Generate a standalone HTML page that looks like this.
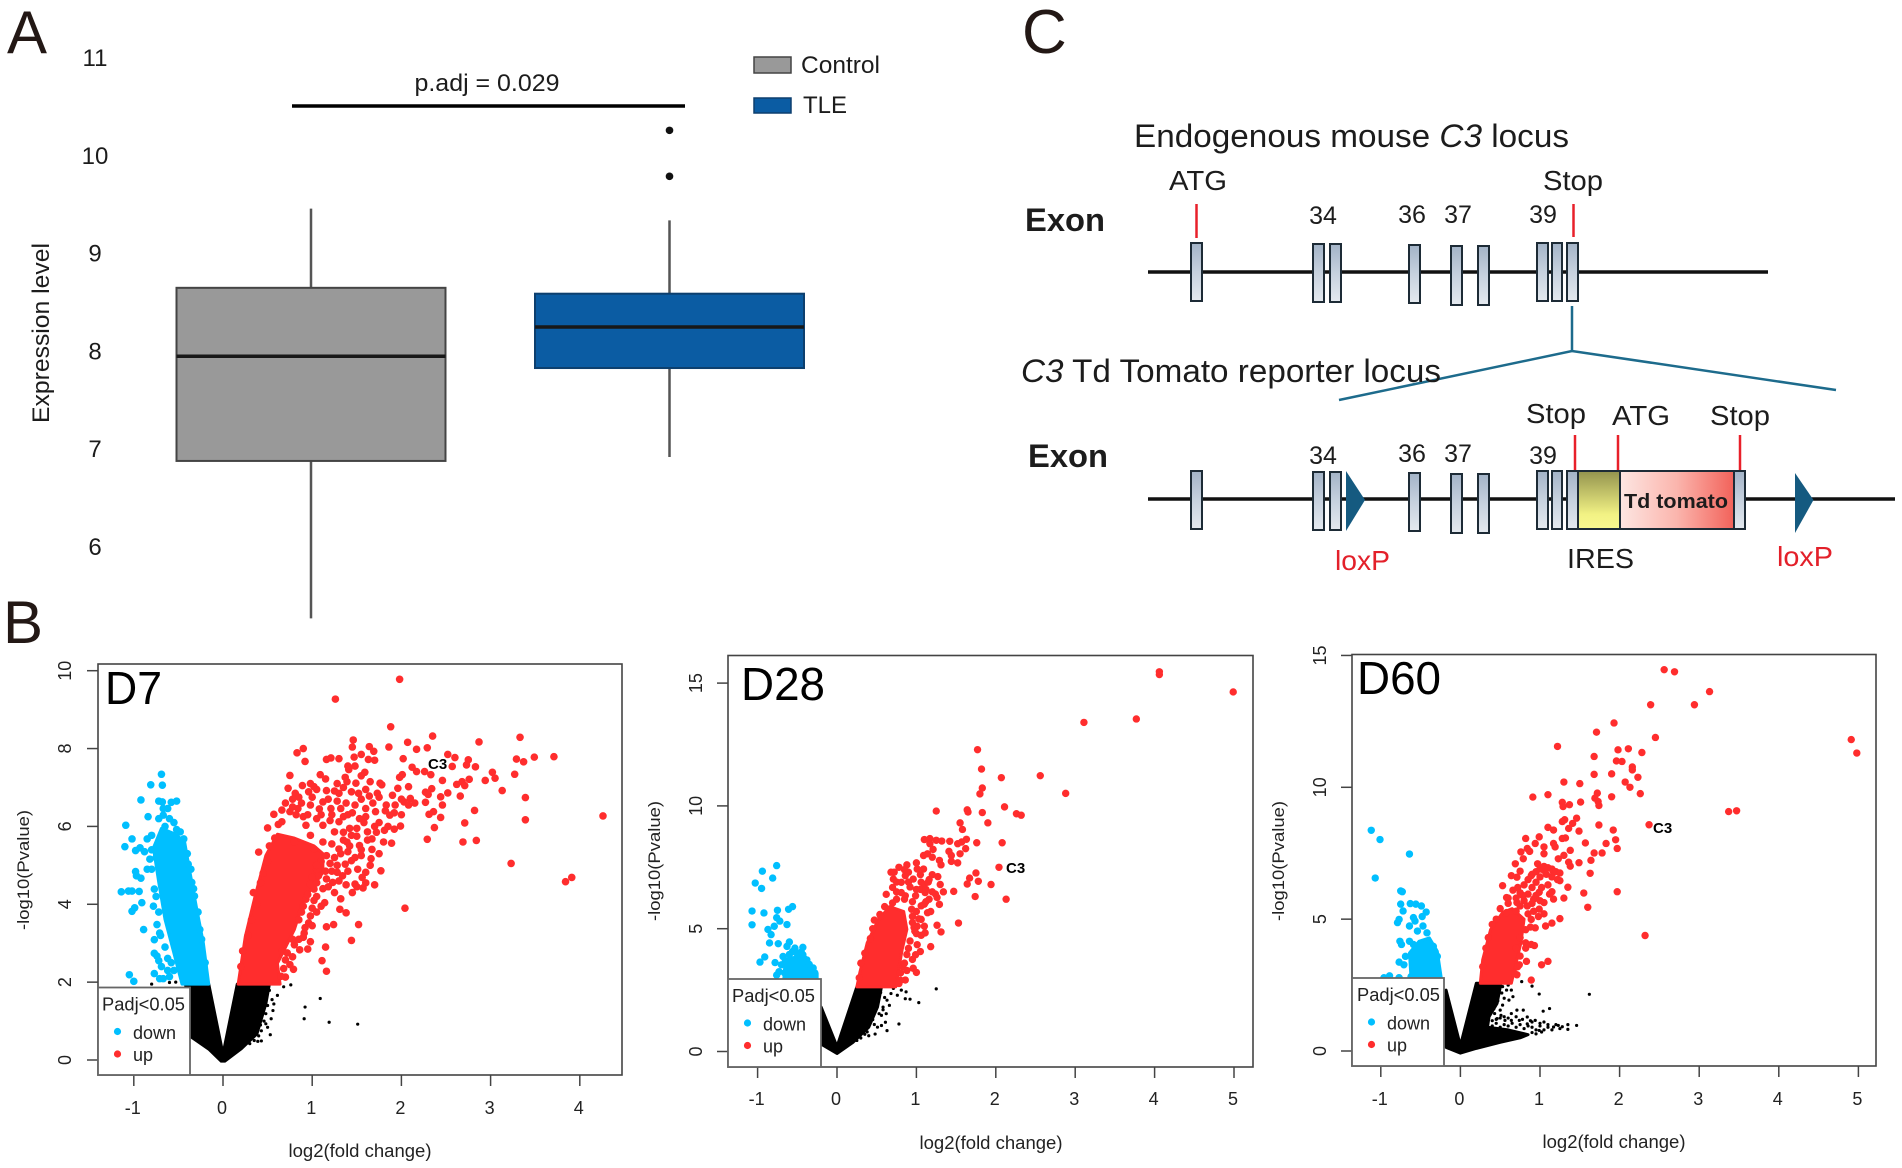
<!DOCTYPE html>
<html lang="en">
<head>
<meta charset="utf-8">
<title>C3 expression figure</title>
<style>
html,body{margin:0;padding:0;background:#fff;width:1902px;height:1168px;overflow:hidden}
svg{display:block;font-family:"Liberation Sans",sans-serif;fill:#1c1c1c}
</style>
</head>
<body>
<svg id="fig" xmlns="http://www.w3.org/2000/svg" width="1902" height="1168" viewBox="0 0 1902 1168">
<defs>
<linearGradient id="exonGrad" x1="0" y1="0" x2="0" y2="1"><stop offset="0" stop-color="#a3b3c7"/><stop offset="0.5" stop-color="#c6d1de"/><stop offset="1" stop-color="#e4e9ef"/></linearGradient>
<linearGradient id="iresGrad" x1="0" y1="0" x2="0" y2="1"><stop offset="0" stop-color="#93934e"/><stop offset="0.75" stop-color="#f2f284"/><stop offset="1" stop-color="#f8f890"/></linearGradient>
<linearGradient id="tomatoGrad" x1="0" y1="0" x2="1" y2="0"><stop offset="0" stop-color="#fde6e2"/><stop offset="0.5" stop-color="#fbb5ad"/><stop offset="1" stop-color="#f2625a"/></linearGradient>
</defs>

<text x="7" y="53" font-size="60" fill="#231815">A</text>
<text x="3" y="643" font-size="60" fill="#231815">B</text>
<text x="1022" y="53" font-size="62" fill="#231815">C</text>

<g id="boxplot"></g>
<line x1="292" y1="106" x2="685" y2="106" stroke="#000" stroke-width="3.5"/>
<text x="487" y="91" font-size="24" text-anchor="middle" textLength="145" lengthAdjust="spacingAndGlyphs">p.adj = 0.029</text>
<text transform="translate(49 333) rotate(-90)" font-size="24" text-anchor="middle" textLength="180" lengthAdjust="spacingAndGlyphs">Expression level</text>

<g>
<rect x="754" y="57" width="37" height="16" fill="#999" stroke="#444" stroke-width="1.5"/>
<text x="801" y="73" font-size="24" textLength="79" lengthAdjust="spacingAndGlyphs">Control</text>
<rect x="754" y="98" width="37" height="15" fill="#0b5ca3" stroke="#0d3f6e" stroke-width="1.5"/>
<text x="803" y="113" font-size="24" textLength="44" lengthAdjust="spacingAndGlyphs">TLE</text>
</g>

<g>
<text x="1134" y="147" font-size="32" textLength="435" lengthAdjust="spacingAndGlyphs">Endogenous mouse <tspan font-style="italic">C3</tspan> locus</text>
<text x="1169" y="190" font-size="28" textLength="58" lengthAdjust="spacingAndGlyphs">ATG</text>
<text x="1543" y="190" font-size="28" textLength="60" lengthAdjust="spacingAndGlyphs">Stop</text>
<text x="1025" y="231" font-size="32" font-weight="bold" textLength="80" lengthAdjust="spacingAndGlyphs">Exon</text>
<g font-size="25" text-anchor="middle">
<text x="1323" y="224">34</text>
<text x="1412" y="223">36</text>
<text x="1458" y="223">37</text>
<text x="1543" y="223">39</text>
<text x="1323" y="464">34</text>
<text x="1412" y="462">36</text>
<text x="1458" y="462">37</text>
<text x="1543" y="464">39</text>
</g>
<line x1="1196.5" y1="204" x2="1196.5" y2="238" stroke="#e8202a" stroke-width="2.5"/>
<line x1="1573.5" y1="204" x2="1573.5" y2="237" stroke="#e8202a" stroke-width="2.5"/>
<line x1="1148" y1="272" x2="1768" y2="272" stroke="#111" stroke-width="3.5"/>
<g stroke="#1d2b36" stroke-width="2" fill="url(#exonGrad)">
<rect x="1191" y="243" width="11" height="58"/>
<rect x="1313" y="244" width="11" height="58"/>
<rect x="1330" y="244" width="11" height="58"/>
<rect x="1409" y="245" width="11" height="58"/>
<rect x="1451" y="246" width="11" height="59"/>
<rect x="1478" y="246" width="11" height="59"/>
<rect x="1537" y="243" width="11" height="58"/>
<rect x="1552" y="243" width="10" height="58"/>
<rect x="1567" y="243" width="11" height="58"/>
</g>
<polyline points="1339,400 1572,351 1836,390" fill="none" stroke="#1d6b8c" stroke-width="2.5"/>
<line x1="1572" y1="306" x2="1572" y2="351" stroke="#1d6b8c" stroke-width="2.5"/>
<text x="1021" y="382" font-size="32" textLength="420" lengthAdjust="spacingAndGlyphs"><tspan font-style="italic">C3</tspan> Td Tomato reporter locus</text>
<text x="1028" y="467" font-size="32" font-weight="bold" textLength="80" lengthAdjust="spacingAndGlyphs">Exon</text>
<text x="1526" y="423" font-size="28" textLength="60" lengthAdjust="spacingAndGlyphs">Stop</text>
<text x="1612" y="425" font-size="28" textLength="58" lengthAdjust="spacingAndGlyphs">ATG</text>
<text x="1710" y="425" font-size="28" textLength="60" lengthAdjust="spacingAndGlyphs">Stop</text>
<g stroke="#e8202a" stroke-width="2.5">
<line x1="1575" y1="435" x2="1575" y2="470"/>
<line x1="1618" y1="435" x2="1618" y2="470"/>
<line x1="1740" y1="435" x2="1740" y2="470"/>
</g>
<line x1="1148" y1="499" x2="1895" y2="499" stroke="#111" stroke-width="3.5"/>
<g stroke="#1d2b36" stroke-width="2" fill="url(#exonGrad)">
<rect x="1191" y="471" width="11" height="58"/>
<rect x="1313" y="472" width="11" height="58"/>
<rect x="1330" y="472" width="11" height="58"/>
<rect x="1409" y="473" width="11" height="58"/>
<rect x="1451" y="474" width="11" height="59"/>
<rect x="1478" y="474" width="11" height="59"/>
<rect x="1537" y="471" width="11" height="58"/>
<rect x="1552" y="471" width="10" height="58"/>
<rect x="1567" y="471" width="11" height="58"/>
<rect x="1734" y="471" width="11" height="58"/>
</g>
<rect x="1578" y="471" width="42" height="58" fill="url(#iresGrad)" stroke="#1d2b36" stroke-width="2"/>
<rect x="1620" y="471" width="114" height="58" fill="url(#tomatoGrad)" stroke="#1d2b36" stroke-width="2"/>
<text x="1624" y="508" font-size="20" font-weight="bold" textLength="104" lengthAdjust="spacingAndGlyphs">Td tomato</text>
<polygon points="1346,471 1365,500 1346,531" fill="#155a80"/>
<polygon points="1795,473 1813.5,500 1795,533" fill="#155a80"/>
<text x="1335" y="570" font-size="28" fill="#e3202a" textLength="55" lengthAdjust="spacingAndGlyphs">loxP</text>
<text x="1777" y="566" font-size="28" fill="#e3202a" textLength="56" lengthAdjust="spacingAndGlyphs">loxP</text>
<text x="1567" y="568" font-size="28" textLength="67" lengthAdjust="spacingAndGlyphs">IRES</text>
</g>

<g id="volcano-d7"></g>
<g id="volcano-d28"></g>
<g id="volcano-d60"></g>
</svg>

<script>
/* ---------- Panel A: boxplot data ---------- */
var boxCategories = ["Control", "TLE"];
var boxWhiskerLow = [5.27, 6.92];
var boxQ1 = [6.88, 7.83];
var boxMedian = [7.95, 8.25];
var boxQ3 = [8.65, 8.59];
var boxWhiskerHigh = [9.46, 9.34];
var boxOutliers = [[], [9.79, 10.26]];
var boxFills = ["#999999", "#0b5ca3"];
var boxStrokes = ["#444444", "#0d3f6e"];
var boxYTicks = [6, 7, 8, 9, 10, 11];

/* ---------- Panel B: volcano ticks ---------- */
var d7XTicks = [-1, 0, 1, 2, 3, 4];
var d7YTicks = [0, 2, 4, 6, 8, 10];
var d28XTicks = [-1, 0, 1, 2, 3, 4, 5];
var d28YTicks = [0, 5, 10, 15];
var d60XTicks = [-1, 0, 1, 2, 3, 4, 5];
var d60YTicks = [0, 5, 10, 15];

/* ---------- D7 values: [log2FC, -log10P] ---------- */
var d7UpPoints = [[1.98,9.78],[1.26,9.27],[1.88,8.56],[2.35,8.32],[3.33,8.29],[2.87,8.17],[1.46,8.22],[2.07,8.16],[2.17,7.98],[2.29,8.02],[1.86,8.04],[1.64,8.05],[1.69,7.93],[0.90,8.00],[0.83,7.89],[1.45,8.04],[2.52,7.85],[2.60,7.77],[3.49,7.78],[3.71,7.79],[3.29,7.73],[3.37,7.66],[2.75,7.71],[2.73,7.58],[2.57,7.54],[2.83,7.53],[3.27,7.34],[3.02,7.39],[3.05,7.24],[2.94,7.18],[2.76,7.21],[2.68,7.15],[2.62,7.08],[2.71,7.05],[2.46,7.18],[3.13,6.92],[3.39,6.74],[2.66,6.78],[2.52,6.86],[2.44,6.76],[2.34,6.97],[2.27,6.88],[2.30,6.82],[2.27,6.62],[2.46,6.55],[2.36,6.38],[2.31,6.31],[2.44,6.23],[4.26,6.27],[2.82,6.41],[3.39,6.17],[2.71,6.09],[2.37,5.97],[2.29,5.67],[2.69,5.60],[2.84,5.64],[3.23,5.05],[3.91,4.69],[3.84,4.58],[2.04,3.90],[1.77,4.86],[1.70,4.50],[1.57,4.42],[1.60,4.82],[1.51,4.90],[1.56,4.69],[1.48,4.52],[1.32,4.14],[1.38,3.78],[1.31,3.87],[1.52,3.48],[1.24,3.48],[1.16,3.42],[1.44,3.07],[1.15,2.90],[1.11,2.55],[1.16,2.28],[0.79,2.33],[0.70,2.13],[1.89,5.57],[1.81,5.90],[1.99,6.01],[1.92,5.93],[1.96,6.98],[2.08,7.02],[2.01,7.33],[1.98,7.26],[2.02,7.74],[2.12,7.52],[2.26,7.41],[2.17,7.41],[2.33,7.33],[1.16,7.72],[1.30,7.74],[1.21,7.76],[0.92,7.67],[1.47,7.78],[1.63,7.72],[0.75,7.31],[1.09,7.33],[1.15,7.22],[1.41,7.46],[1.37,7.26],[1.59,7.39],[1.76,7.11],[1.49,7.11],[0.73,6.98],[0.81,6.85],[0.89,7.05],[1.02,7.02],[0.96,6.89],[1.16,6.92],[1.25,6.91],[1.39,7.15],[1.44,6.89],[1.64,6.78],[1.73,6.85],[1.78,7.07],[1.83,6.55],[1.87,6.29],[1.93,6.55],[2.03,6.63],[2.10,6.72],[2.08,6.55],[0.66,6.42],[0.57,6.31],[0.50,5.96],[0.40,5.34],[0.34,4.30],[0.66,6.12],[0.75,6.38],[0.84,6.46],[0.98,6.55],[1.12,6.63],[1.21,6.46],[1.32,6.46],[1.48,6.55],[1.60,6.46],[1.71,6.38],[1.53,6.2],[1.44,5.77],[1.62,5.86],[1.67,5.68],[1.53,5.51],[1.67,5.41],[1.66,5.17],[1.55,5.25],[1.44,5.12],[1.37,5.03],[1.28,4.82],[1.34,4.73],[1.23,4.56],[1.16,4.65],[1.14,4.04],[1.02,4.39],[0.93,4.13],[0.98,4.52],[1.07,4.73],[1.05,4.9],[1.3,5.42],[1.16,5.25],[1.39,5.6],[1.25,5.86],[1.12,5.6],[1.02,5.42],[0.98,5.77],[1.12,6.03],[1.3,6.12],[0.93,6.03],[0.8,5.6],[0.96,3.52],[0.91,3.26],[0.98,3.04],[0.86,2.83],[0.7,2.57],[0.8,2.96],[0.66,2.79],[1.75,6.1],[1.58,6.1],[1.4,6.3],[1.05,6.2],[0.9,6.25],[1.2,6.15],[1.05,4.2],[0.88,3.8],[1.0,3.9],[1.1,5.1],[1.25,5.2],[1.4,5.35],[1.5,5.95],[0.7,6.6],[0.78,6.5],[0.88,6.6],[1.0,6.75],[1.08,6.45],[1.18,6.7],[1.28,6.65],[1.38,6.6],[1.55,6.7],[1.68,6.6],[1.82,6.4],[1.75,6.75],[1.6,6.25],[1.45,6.35],[1.35,6.25],[1.22,6.3],[1.1,6.3],[0.95,6.3],[0.82,6.3],[1.7,6.0],[1.62,5.65],[1.5,5.75],[1.42,5.95],[1.35,5.85],[1.55,5.4],[1.48,5.2],[1.42,5.5],[1.32,5.3],[1.35,5.65],[1.22,5.55],[1.28,5.0],[1.2,5.05],[1.22,4.85],[1.18,4.45],[1.12,4.4],[1.15,4.85],[1.05,4.55],[1.0,4.7],[0.95,4.25],[1.02,4.1],[0.9,3.95],[0.98,3.7],[0.85,3.6],[0.92,3.4],[0.78,3.1],[0.85,3.1],[0.72,2.75],[0.78,2.65],[0.68,2.35],[0.65,2.15],[0.75,2.45],[1.1,3.95],[1.05,3.8],[1.0,3.45],[0.95,2.85],[0.9,3.15],[1.05,5.0],[1.3,4.6],[1.4,4.85],[1.45,4.3],[1.25,4.3],[1.38,4.5],[1.5,4.45],[1.6,4.55],[1.65,5.0],[1.75,5.3],[1.8,5.6],[1.72,5.85],[1.85,6.0],[1.92,6.35],[2.0,6.3],[1.9,6.8],[2.0,6.7],[2.15,6.6],[1.55,7.3],[1.65,7.15],[1.4,7.55],[1.35,7.0],[1.28,7.1],[1.05,6.95],[0.98,7.1],[0.85,6.75],[0.78,6.7],[1.48,7.55],[1.55,7.85],[1.7,7.7],[1.6,6.95],[1.52,6.85],[1.3,6.85],[0.62,6.05],[0.58,5.7],[0.52,5.5],[0.5,5.1],[0.45,4.8],[0.42,4.55],[0.38,4.0],[0.32,3.6],[0.28,3.2],[0.22,2.8],[0.2,2.4]];
var d7UpDense = [[0.17,1.95],[0.25,3.17],[0.36,4.21],[0.48,5.25],[0.61,5.8],[0.8,5.7],[1.02,5.5],[1.12,5.3],[1.12,4.82],[0.91,4.13],[0.80,3.35],[0.61,2.48],[0.64,1.95]];
var d7DownPoints = [[-0.69,7.34],[-0.81,7.07],[-0.68,7.06],[-0.92,6.68],[-0.72,6.65],[-0.68,6.63],[-0.58,6.62],[-0.52,6.65],[-0.67,6.46],[-0.62,6.46],[-0.67,6.29],[-0.84,6.25],[-1.09,6.03],[-1.02,5.68],[-1.1,5.48],[-0.93,5.45],[-0.98,5.38],[-1.14,4.32],[-1.06,4.34],[-1.02,4.34],[-0.94,4.33],[-0.98,4.84],[-0.97,4.73],[-0.92,4.67],[-0.91,4.04],[-0.99,3.91],[-1.02,3.82],[-0.89,3.35],[-0.77,3.09],[-0.77,2.74],[-0.74,2.67],[-0.69,2.4],[-0.77,2.22],[-1.05,2.19],[-1.0,2.02],[-0.67,2.09],[-0.6,2.14],[-0.71,2.09],[-0.85,5.68],[-0.8,5.77],[-0.82,5.16],[-0.85,4.9],[-0.77,4.39],[-0.78,3.95],[-0.74,3.48],[-0.71,3.26],[-0.62,2.61],[-0.48,5.86],[-0.44,5.68],[-0.52,5.92],[-0.39,5.03],[-0.35,4.56],[-0.32,4.21],[-0.26,3.35],[-0.8,4.9],[-0.75,5.2],[-0.88,5.35],[-0.8,5.4],[-0.75,4.2],[-0.72,3.8],[-0.7,3.2],[-0.65,2.9],[-0.58,2.5],[-0.55,2.3],[-0.62,2.3],[-0.72,2.55],[-0.4,5.3],[-0.36,4.9],[-0.33,4.4],[-0.28,3.8],[-0.24,3.1],[-0.2,2.5],[-0.55,6.1],[-0.6,6.2],[-0.72,6.2],[-0.65,6.0]];
var d7DownDense = [[-0.16,1.95],[-0.22,3.0],[-0.30,3.95],[-0.37,4.82],[-0.43,5.6],[-0.53,5.8],[-0.69,5.95],[-0.78,5.45],[-0.72,4.56],[-0.65,3.61],[-0.56,2.83],[-0.46,1.95]];
var d7NsPoints = [[0.92,1.36],[1.09,1.58],[0.91,1.06],[1.19,0.97],[1.51,0.92],[0.76,1.93],[0.68,1.88],[0.61,1.66],[0.57,1.44],[0.54,1.06],[0.53,0.65],[0.5,0.84],[0.43,0.49],[0.39,0.48],[0.56,1.27],[0.48,1.19],[0.52,1.79],[0.43,0.75],[0.59,1.96],[0.48,0.93],[-0.9,1.83],[-0.8,1.95],[-0.6,1.99],[-0.53,2.0],[0.55,1.55],[0.5,1.4],[0.46,1.0],[0.42,0.9],[0.4,0.62],[0.35,0.5],[0.3,0.42]];
var d7NsDense = [[0.16,1.95],[0.52,1.95],[0.48,1.44],[0.38,0.67],[0.2,0.28],[0.02,-0.03],[-0.02,-0.03],[-0.16,0.28],[-0.35,0.58],[-0.42,1.95],[-0.16,1.95],[0,0.15]];

/* ---------- D28 values ---------- */
var d28UpPoints = [[4.06,15.46],[4.06,15.35],[4.99,14.64],[3.77,13.54],[3.11,13.4],[1.77,12.29],[1.82,11.5],[2.07,11.15],[2.56,11.23],[1.83,10.73],[1.8,10.49],[2.88,10.51],[2.11,9.96],[1.25,9.79],[1.64,9.84],[1.65,9.75],[1.83,9.73],[2.26,9.68],[2.32,9.62],[1.9,9.31],[1.55,9.31],[1.58,9.04],[1.63,8.64],[1.76,8.5],[2.08,8.5],[1.1,8.63],[1.17,8.67],[1.17,8.46],[1.25,8.6],[1.32,8.57],[1.42,8.56],[1.52,8.46],[1.57,8.53],[1.62,8.26],[1.41,8.15],[1.44,7.98],[1.55,8.05],[1.09,7.98],[1.14,8.05],[1.21,8.23],[1.2,7.91],[1.29,7.78],[1.31,7.6],[1.44,7.74],[1.52,7.68],[1,7.68],[2.04,7.5],[1.75,7.27],[1.67,7.06],[1.78,6.93],[1.64,6.82],[1.94,6.8],[1.74,6.31],[2.13,6.2],[1.47,6.52],[1.53,5.23],[1.26,5.14],[1.31,4.87],[1.18,4.27],[1.06,4.73],[1.11,4.83],[1.1,5.1],[1.01,4.35],[1.05,4.07],[0.99,3.94],[0.96,3.39],[1,3.22],[0.83,3.46],[0.86,2.91],[0.78,2.77],[0.47,5.35],[0.54,5.58],[0.68,7.3],[0.71,7.02],[0.78,7.5],[0.88,7.6],[1.01,7.43],[1.09,7.43],[1.16,7],[1.27,7.12],[1.34,6.5],[1.26,6.27],[1.29,5.99],[1.14,5.65],[1.06,5.38],[1.01,5.1],[1.24,6.41],[1.16,6.2],[0.81,6.89],[0.7,6.68],[0.86,7.16],[0.96,7.02],[1.06,6.89],[1.11,6.47],[1.06,5.93],[0.94,5.79],[0.86,6.34],[0.99,6.34],[0.81,6.47],[0.92,6.7],[1.0,6.6],[1.1,6.8],[1.2,6.5],[0.75,6.2],[0.95,5.5],[0.98,4.9],[0.9,4.2],[0.95,3.75],[1.12,6.1],[0.85,6.2],[0.95,6.1],[1.0,5.7],[1.05,6.6],[0.9,6.9],[0.75,6.5],[0.7,6.05],[0.62,6.4],[0.6,5.9],[0.55,5.5],[0.45,5.0],[0.42,4.6],[0.35,4.0],[0.3,3.6],[0.28,3],[0.95,5.25],[1.0,4.8],[0.92,4.5],[0.88,3.95],[0.85,3.6],[0.8,3.2],[0.88,3.3],[0.8,2.9],[1.15,6.9],[1.2,7.2],[1.05,7.2],[0.9,7.3],[0.85,7.4],[1.3,6.8],[1.1,6.0],[1.18,5.7],[0.97,5.05],[1.03,5.4],[1.12,6.6],[0.72,7.3],[0.75,6.9]];
var d28UpDense = [[0.25,2.63],[0.29,3.25],[0.38,4.42],[0.51,5.3],[0.66,5.9],[0.84,5.7],[0.88,4.97],[0.82,4.14],[0.74,2.63]];
var d28DownPoints = [[-0.76,7.57],[-0.94,7.34],[-0.81,7.06],[-1.03,6.86],[-0.95,6.64],[-1.07,5.72],[-0.92,5.64],[-0.75,5.75],[-0.61,5.79],[-0.56,5.9],[-0.76,5.45],[-0.72,5.31],[-0.79,5.1],[-0.63,5.17],[-1.07,5.16],[-0.87,4.97],[-0.83,4.76],[-0.85,4.42],[-0.74,4.39],[-0.6,4.46],[-0.63,4.28],[-0.43,4.24],[-0.53,4.21],[-0.56,4.07],[-0.91,3.85],[-0.97,3.64],[-0.68,3.87],[-0.78,3.62],[-0.7,3.53],[-0.73,3.25],[-0.76,3.11],[-0.43,3.94],[-0.38,3.73],[-0.63,3.5],[-0.58,3.75],[-0.5,4.0],[-0.45,4.05],[-0.35,3.55],[-0.3,3.4],[-0.28,3.2],[-0.66,3.2],[-0.6,3.95],[-0.65,3.7]];
var d28DownDense = [[-0.67,2.94],[-0.66,3.39],[-0.53,3.87],[-0.4,3.87],[-0.25,3.18],[-0.25,2.94]];
var d28NsPoints = [[1.25,2.55],[1.03,1.99],[0.92,2.13],[0.86,2.15],[0.78,1.12],[0.63,0.85],[0.61,1.19],[0.56,1.06],[0.51,0.99],[0.71,2.57],[0.81,2.5],[0.68,2.36],[0.63,2.09],[0.58,1.81],[0.53,1.54],[0.87,2.43],[0.76,2.29],[0.66,1.88],[0.48,0.71],[0.4,0.64],[0.56,1.47],[0.62,1.54],[0.55,2.4],[0.6,2.2],[0.5,2.0],[0.45,1.3],[0.47,1.1],[0.38,0.8],[0.35,0.7],[0.3,0.55],[0.25,0.45],[0.58,1.7]];
var d28NsDense = [[0.25,2.63],[0.56,2.63],[0.51,1.81],[0.4,0.99],[0.2,0.37],[0,-0.08],[-0.2,0.3],[-0.2,1.81],[0,0.2]];

/* ---------- D60 values ---------- */
var d60UpPoints = [[2.56,14.46],[2.69,14.38],[3.13,13.63],[2.39,13.13],[2.94,13.13],[1.93,12.44],[1.71,12.09],[2.45,11.89],[4.91,11.81],[4.98,11.3],[1.22,11.55],[1.98,11.42],[2.11,11.46],[2.28,11.32],[1.68,11.17],[1.96,11],[2.03,10.98],[2.16,10.77],[2.16,10.66],[1.9,10.51],[1.68,10.49],[2.23,10.38],[2.07,10.2],[1.3,10.2],[1.5,10.14],[2.13,10],[2.26,9.76],[1.72,9.78],[1.9,9.64],[0.91,9.63],[1.1,9.72],[1.69,9.59],[1.73,9.46],[1.74,9.31],[1.51,9.44],[1.28,9.43],[1.29,9.27],[1.37,9.34],[3.37,9.08],[3.47,9.11],[1.46,8.83],[1.31,8.77],[1.28,8.7],[1.41,8.63],[1.74,8.57],[2.37,8.58],[1.1,8.48],[1.17,8.38],[1.36,8.44],[1.49,8.34],[1.92,8.38],[0.82,8.06],[0.99,8.12],[1.32,8.08],[1.28,8.06],[1.95,8.01],[1.57,7.89],[1.83,7.87],[0.94,7.87],[1.17,7.87],[0.84,7.68],[1.97,7.68],[1.05,7.74],[1.19,7.74],[0.76,7.55],[0.87,7.57],[1.05,7.48],[1.38,7.61],[1.3,7.42],[1.68,7.51],[1.78,7.51],[1.64,7.23],[0.79,7.29],[0.69,7.1],[0.97,7.1],[1.23,7.29],[1.36,7.16],[1.49,7.14],[1.38,7.01],[1.63,6.74],[0.75,6.82],[0.71,6.59],[0.89,6.65],[1.05,6.85],[1.17,6.78],[1.25,6.46],[0.53,6.27],[1.35,6.21],[1.55,5.99],[1.97,6.04],[1.15,6.04],[0.58,5.82],[1.17,5.76],[1.3,5.8],[0.99,6.02],[1.6,5.45],[1.05,5.63],[0.99,5.38],[0.89,4.99],[1.25,5.02],[1.15,4.85],[1.07,4.74],[0.94,4.67],[2.32,4.38],[0.89,4.04],[0.93,4],[1.1,3.4],[1.02,3.27],[0.83,3.4],[0.74,3.27],[0.71,2.89],[0.89,2.69],[0.64,6.65],[0.79,5.89],[0.71,5.63],[0.84,5.5],[0.92,5.76],[0.58,5.25],[0.7,5.8],[0.75,6.0],[0.8,6.3],[0.85,6.5],[0.9,6.7],[0.95,6.8],[1.0,6.9],[1.05,7.0],[1.1,6.95],[1.15,6.9],[1.2,6.8],[1.25,6.75],[1.22,6.5],[1.15,6.6],[1.08,6.7],[1.0,6.6],[0.95,6.4],[0.9,6.2],[0.85,5.95],[0.8,5.7],[0.75,5.5],[0.7,5.3],[0.9,5.6],[0.95,5.9],[1.02,6.2],[1.1,6.3],[1.0,5.7],[0.92,5.3],[0.98,5.1],[0.85,5.2],[0.78,5.9],[0.72,6.2],[0.66,6.1],[0.6,5.8],[1.12,5.95],[1.05,5.2],[0.82,4.6],[0.88,4.7],[0.75,4.3],[0.7,3.9],[0.6,5.6],[0.5,5.4],[0.45,5.0],[0.4,4.8],[0.35,4.3],[0.32,3.9],[0.28,3.2],[0.82,4.1],[0.75,3.6],[0.72,3.2],[0.68,2.95],[0.82,3.9]];
var d60UpDense = [[0.25,2.57],[0.28,3.46],[0.38,4.61],[0.53,5.25],[0.65,5.4],[0.8,5.0],[0.76,4.1],[0.64,2.57]];
var d60DownPoints = [[-1.12,8.37],[-1.01,8.02],[-0.64,7.47],[-1.07,6.56],[-0.75,6.07],[-0.73,6.04],[-0.75,5.57],[-0.63,5.59],[-0.56,5.57],[-0.49,5.5],[-0.43,5.27],[-0.72,5.31],[-0.48,5.1],[-0.77,4.99],[-0.59,5.06],[-0.79,4.87],[-0.57,4.93],[-0.64,4.74],[-0.47,4.74],[-0.54,4.55],[-0.42,4.48],[-0.76,4.16],[-0.74,4.04],[-0.64,4.16],[-0.59,4.04],[-0.34,3.97],[-0.69,3.59],[-0.77,3.37],[-0.71,3.27],[-0.29,3.59],[-0.96,2.78],[-0.89,2.85],[-0.77,2.78],[-0.62,2.82]];
var d60DownDense = [[-0.62,2.76],[-0.64,3.72],[-0.52,4.16],[-0.39,4.29],[-0.29,3.78],[-0.24,2.76]];
var d60NsPoints = [[1.62,2.15],[1.46,0.97],[1.35,1],[1.35,0.82],[1.23,0.97],[1.17,0.91],[1.12,1.61],[1.04,1.51],[0.99,2.16],[0.9,2.46],[0.77,2.63],[0.71,1.55],[0.64,1.42],[0.53,1.74],[0.58,2.31],[0.66,2.06],[0.84,1.29],[0.94,1.16],[1.05,1.1],[0.46,1.23],[0.56,1.16],[0.74,1.16],[0.84,1.03],[0.99,0.78],[0.53,2.44],[0.64,2.31],[0.61,1.93],[0.79,1.55],[0.43,1.42],[0.51,1.35],[0.64,1.16],[1.1,0.9],[1.28,0.92],[0.9,1.1],[1.0,1.05],[0.4,0.95],[0.45,1.05],[0.5,0.9],[0.55,1.0],[0.6,0.95],[0.65,1.05],[0.7,0.9],[0.75,1.0],[0.8,0.85],[0.85,0.95],[0.9,0.9],[0.95,0.8],[1.0,0.95],[1.05,0.8],[1.1,1.0],[1.15,0.8],[1.2,1.0],[1.25,0.85],[0.9,0.7],[0.95,0.65],[1.02,0.72],[0.45,1.2],[0.5,1.25],[0.4,1.15],[0.55,1.3],[0.6,1.25],[0.7,1.3],[0.78,1.2],[0.88,1.15],[0.42,1.6],[0.5,1.55],[0.47,1.9],[0.55,2.0],[0.52,2.2],[0.6,2.5]];
var d60NsDense = [[0.2,2.57],[0.51,2.57],[0.46,1.8],[0.36,1.3],[0.34,0.9],[0.6,0.8],[0.85,0.62],[0.75,0.5],[0.5,0.33],[0.2,0.1],[0,-0.08],[-0.18,0.14],[-0.18,2.31],[0,0.2]];

var SVGNS = "http://www.w3.org/2000/svg";
function add(parent, tag, attrs, text) {
  var el = document.createElementNS(SVGNS, tag);
  for (var k in attrs) { el.setAttribute(k, attrs[k]); }
  if (text !== undefined) { el.textContent = text; }
  parent.appendChild(el);
  return el;
}

/* ---------- Draw boxplot ---------- */
(function () {
  var g = document.getElementById("boxplot");
  function yA(v) { return 58 + (11 - v) * 97.8; }
  var centers = [311, 669.5];
  var halfW = 134.5;
  boxYTicks.forEach(function (t) {
    var lab = add(g, "text", { x: 95, y: yA(t) + 8, "font-size": 24, "text-anchor": "middle" }, String(t));
    
    
  });
  boxCategories.forEach(function (c, i) {
    var cx = centers[i];
    var w = add(g, "line", { x1: cx, x2: cx, y1: yA(boxWhiskerHigh[i]), y2: yA(boxWhiskerLow[i]), stroke: "#555", "stroke-width": 2.5 });
    
    
    var r = add(g, "rect", { x: cx - halfW, y: yA(boxQ3[i]), width: halfW * 2, height: yA(boxQ1[i]) - yA(boxQ3[i]), fill: boxFills[i], stroke: boxStrokes[i], "stroke-width": 2 });
    
    
    var m = add(g, "line", { x1: cx - halfW, x2: cx + halfW, y1: yA(boxMedian[i]), y2: yA(boxMedian[i]), stroke: "#181818", "stroke-width": 3.5 });
    
    
    boxOutliers[i].forEach(function (o) {
      var p = add(g, "circle", { cx: cx, cy: yA(o), r: 3.8, fill: "#111" });
      
      
    });
  });
})();

/* ---------- Draw volcano plots ---------- */
function drawVolcano(id, c) {
  var g = document.getElementById(id);
  function sx(v) { return c.x0 + c.xUnit * v; }
  function sy(v) { return c.y0 - c.yUnit * v; }
  function poly(pts, fill, name) {
    var p = add(g, "polygon", { points: pts.map(function (q) { return sx(q[0]) + "," + sy(q[1]); }).join(" "), fill: fill, stroke: fill, "stroke-width": 3, "stroke-linejoin": "round" });
    
    
  }
  function dots(pts, fill, r, name) {
    pts.forEach(function (q) {
      var d = add(g, "circle", { cx: sx(q[0]), cy: sy(q[1]), r: r, fill: fill });
      
      
    });
  }
  poly(c.nsDense, "#000", "not-significant-dense-cloud");
  dots(c.ns, "#000", 1.6, "not-significant-point");
  poly(c.downDense, "#00bfff", "down-dense-cloud");
  dots(c.down, "#00bfff", c.r, "down-point");
  poly(c.upDense, "#ff2d2d", "up-dense-cloud");
  dots(c.up, "#ff2d2d", c.r, "up-point");

  var frame = add(g, "rect", { x: c.left, y: c.top, width: c.right - c.left, height: c.bottom - c.top, fill: "none", stroke: "#444", "stroke-width": 1.6 });
  
  

  c.xTicks.forEach(function (t) {
    var l = add(g, "line", { x1: sx(t), x2: sx(t), y1: c.bottom, y2: c.bottom + 11, stroke: "#444", "stroke-width": 1.5 });
    
    
    var tx = add(g, "text", { x: sx(t) - 1, y: c.xLabelY, "font-size": 18, "text-anchor": "middle", fill: "#222" }, String(t));
    
    
  });
  c.yTicks.forEach(function (t) {
    var l = add(g, "line", { x1: c.left - 11, x2: c.left, y1: sy(t), y2: sy(t), stroke: "#444", "stroke-width": 1.5 });
    
    
    var tx = add(g, "text", { transform: "translate(" + c.yLabelX + " " + sy(t) + ") rotate(-90)", "font-size": 18, "text-anchor": "middle", fill: "#222" }, String(t));
    
    
  });

  var xt = add(g, "text", { x: c.xTitleX, y: c.xTitleY, "font-size": 18, "text-anchor": "middle", textLength: 143, lengthAdjust: "spacingAndGlyphs", fill: "#222" }, "log2(fold change)");
  
  
  var yt = add(g, "text", { transform: "translate(" + c.yTitleX + " " + c.yTitleY + ") rotate(-90)", "font-size": 17, "text-anchor": "middle", textLength: 120, lengthAdjust: "spacingAndGlyphs", fill: "#222" }, "-log10(Pvalue)");
  
  

  var tag = add(g, "text", { x: c.tagX, y: c.tagY, "font-size": 46, textLength: c.tagW, lengthAdjust: "spacingAndGlyphs", fill: "#000" }, c.tag);
  
  

  var c3 = add(g, "text", { x: c.c3X, y: c.c3Y, "font-size": 15, "font-weight": "bold", fill: "#000" }, "C3");
  
  

  var lg = add(g, "rect", { x: c.left, y: c.lgTop, width: c.lgW, height: c.bottom - c.lgTop, fill: "#fff", stroke: "#666", "stroke-width": 1.8 });
  
  
  var lt = add(g, "text", { x: c.left + (c.lgTextOff), y: c.lgTop + 23, "font-size": 18, textLength: 83, lengthAdjust: "spacingAndGlyphs", fill: "#222" }, "Padj<0.05");
  
  
  var dn = add(g, "circle", { cx: c.left + 19.5, cy: c.lgTop + 44, r: 3.6, fill: "#00bfff" });
  
  
  var dnT = add(g, "text", { x: c.left + 35, y: c.lgTop + 51.5, "font-size": 18, fill: "#222" }, "down");
  
  
  var up = add(g, "circle", { cx: c.left + 19.5, cy: c.lgTop + 66.5, r: 3.6, fill: "#ff2d2d" });
  
  
  var upT = add(g, "text", { x: c.left + 35, y: c.lgTop + 73.5, "font-size": 18, fill: "#222" }, "up");
  
  
}

drawVolcano("volcano-d7", {
  x0: 223, xUnit: 89.2, y0: 1060, yUnit: 38.93, r: 3.8,
  left: 98, right: 622, top: 664, bottom: 1075,
  xTicks: d7XTicks, yTicks: d7YTicks,
  xLabelY: 1114, yLabelX: 71, xTitleX: 360, xTitleY: 1157, yTitleX: 29, yTitleY: 870,
  tag: "D7", tagX: 105, tagY: 704, tagW: 57,
  c3X: 428, c3Y: 769,
  lgTop: 987.5, lgW: 92, lgTextOff: 4,
  up: d7UpPoints, upDense: d7UpDense, down: d7DownPoints, downDense: d7DownDense, ns: d7NsPoints, nsDense: d7NsDense
});
drawVolcano("volcano-d28", {
  x0: 837, xUnit: 79.4, y0: 1051.5, yUnit: 24.56, r: 3.7,
  left: 728, right: 1253, top: 655.5, bottom: 1067,
  xTicks: d28XTicks, yTicks: d28YTicks,
  xLabelY: 1105, yLabelX: 702, xTitleX: 991, xTitleY: 1149, yTitleX: 660, yTitleY: 861,
  tag: "D28", tagX: 741, tagY: 700, tagW: 84,
  c3X: 1006, c3Y: 873,
  lgTop: 979, lgW: 93, lgTextOff: 4,
  up: d28UpPoints, upDense: d28UpDense, down: d28DownPoints, downDense: d28DownDense, ns: d28NsPoints, nsDense: d28NsDense
});
drawVolcano("volcano-d60", {
  x0: 1460.4, xUnit: 79.6, y0: 1051, yUnit: 26.37, r: 3.7,
  left: 1352, right: 1876, top: 654.5, bottom: 1066,
  xTicks: d60XTicks, yTicks: d60YTicks,
  xLabelY: 1105, yLabelX: 1326, xTitleX: 1614, xTitleY: 1148, yTitleX: 1284, yTitleY: 861,
  tag: "D60", tagX: 1357, tagY: 694, tagW: 84,
  c3X: 1653, c3Y: 833,
  lgTop: 978, lgW: 92, lgTextOff: 5,
  up: d60UpPoints, upDense: d60UpDense, down: d60DownPoints, downDense: d60DownDense, ns: d60NsPoints, nsDense: d60NsDense
});
</script>
</body>
</html>
